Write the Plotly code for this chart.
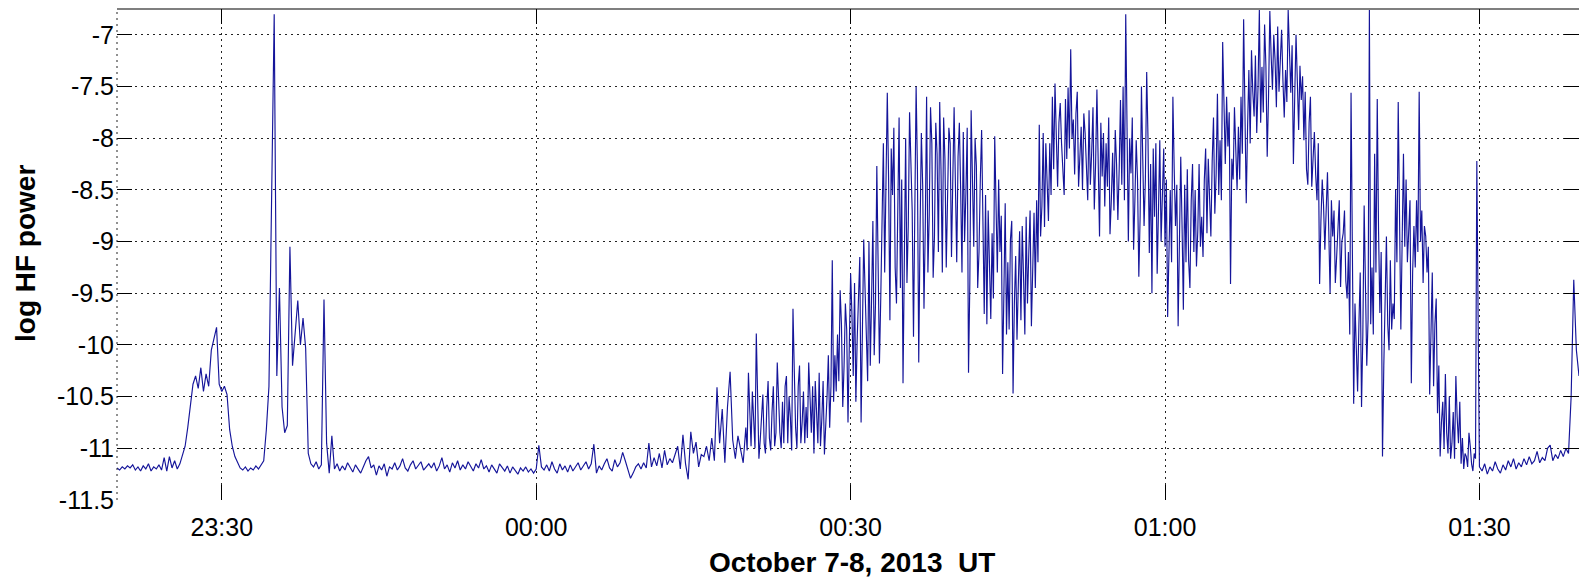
import numpy as np
import pandas as pd
import plotly.graph_objects as go

# HF power (log10), one list per 10-minute block, sampled every 15 s.
# The active blocks also carry a second list sampled half a step later.
START = pd.Timestamp("2013-10-07 23:20:00")
STEP_S = 15

hf_2320 = [-11.19, -11.21, -11.18, -11.20, -11.17, -11.19, -11.16, -11.21, -11.18, -11.22,
           -11.17, -11.20, -11.15, -11.22, -11.18, -11.20, -11.16, -11.21, -11.09, -11.22,
           -11.08, -11.19, -11.12, -11.20, -11.15, -11.06, -10.98, -10.80, -10.58, -10.38,
           -10.30, -10.42, -10.22, -10.45, -10.28, -10.40, -10.05, -9.95, -9.83, -10.38]
hf_2330 = [-10.45, -10.40, -10.48, -10.82, -10.98, -11.08, -11.14, -11.19, -11.21, -11.18,
           -11.22, -11.19, -11.21, -11.17, -11.20, -11.16, -11.12, -10.82, -10.40, -8.60,
           -6.80, -10.30, -9.45, -10.60, -10.85, -10.78, -9.05, -10.20, -9.85, -9.57,
           -10.00, -9.74, -10.03, -11.05, -11.15, -11.18, -11.13, -11.20, -11.16, -9.56]
hf_2340 = [-10.95, -11.24, -10.88, -11.20, -11.15, -11.22, -11.17, -11.21, -11.14, -11.19,
           -11.23, -11.16, -11.20, -11.24, -11.18, -11.12, -11.08, -11.19, -11.16, -11.26,
           -11.17, -11.21, -11.15, -11.27, -11.18, -11.20, -11.14, -11.21, -11.17, -11.10,
           -11.19, -11.22, -11.16, -11.12, -11.20, -11.17, -11.13, -11.21, -11.18, -11.15]
hf_2350 = [-11.19, -11.14, -11.22, -11.17, -11.09, -11.20, -11.16, -11.23, -11.14, -11.19,
           -11.12, -11.21, -11.16, -11.20, -11.13, -11.18, -11.22, -11.15, -11.19, -11.11,
           -11.20, -11.17, -11.23, -11.16, -11.20, -11.24, -11.15, -11.19, -11.22, -11.17,
           -11.24, -11.18, -11.21, -11.25, -11.19, -11.22, -11.18, -11.23, -11.20, -11.24]
hf_0000 = [-11.20, -10.97, -11.18, -11.21, -11.16, -11.22, -11.13, -11.20, -11.24, -11.15,
           -11.21, -11.17, -11.23, -11.16, -11.22, -11.18, -11.14, -11.21, -11.17, -11.13,
           -11.20, -11.15, -10.96, -11.24, -11.17, -11.21, -11.15, -11.10, -11.19, -11.22,
           -11.11, -11.18, -11.14, -11.04, -11.12, -11.20, -11.29, -11.24, -11.18, -11.15]
hf_0010 = [-11.20, -11.14, -11.19, -10.95, -11.18, -11.09, -11.17, -11.05, -11.19, -11.02,
           -11.16, -11.10, -11.14, -11.06, -10.98, -11.20, -10.87, -11.15, -11.30, -10.84,
           -11.05, -10.94, -11.18, -11.06, -11.08, -10.98, -11.12, -10.90, -11.12, -10.41,
           -10.95, -10.62, -11.14, -10.60, -10.26, -10.92, -11.10, -10.88, -11.00, -11.14]
hf_0020 = [-10.80, -10.27, -10.98, -10.75, -9.89, -11.10, -10.70, -10.95, -10.60, -10.90,
           -10.65, -10.98, -10.17, -10.85, -10.55, -10.40, -10.95, -10.70, -9.65, -10.80,
           -10.40, -10.95, -10.45, -10.60, -10.17, -10.85, -11.05, -10.70, -10.27, -10.72,
           -11.06, -10.50, -10.80, -9.18, -10.10, -9.90, -9.47, -10.60, -9.60, -10.75]
hf_0030 = [-9.31, -10.30, -10.55, -9.47, -10.75, -8.98, -10.08, -9.00, -9.55, -10.10,
           -8.27, -10.18, -8.70, -9.30, -7.56, -9.76, -8.55, -9.25, -8.35, -9.45,
           -10.37, -8.00, -8.85, -8.28, -9.92, -7.50, -10.17, -7.95, -9.65, -7.60,
           -8.75, -8.05, -8.95, -8.15, -7.65, -9.30, -8.20, -8.60, -8.05, -8.40]
hf_0040 = [-8.45, -8.18, -8.50, -7.94, -8.53, -10.27, -7.73, -9.05, -8.27, -9.10,
           -7.92, -9.70, -9.80, -9.30, -8.92, -7.98, -9.30, -9.10, -10.28, -8.63,
           -9.20, -8.98, -10.47, -9.14, -9.37, -9.76, -9.34, -8.76, -9.11, -9.82,
           -8.72, -8.60, -7.87, -8.66, -8.86, -8.50, -8.05, -7.60, -7.47, -8.47]
hf_0050 = [-7.66, -8.29, -7.62, -7.51, -7.14, -7.82, -7.76, -8.47, -7.89, -7.76,
           -8.27, -7.73, -8.14, -8.69, -7.53, -8.95, -8.37, -8.66, -8.47, -8.93,
           -8.14, -7.92, -8.79, -7.63, -7.50, -6.80, -9.00, -8.34, -9.08, -8.02,
           -9.34, -7.50, -8.85, -7.36, -9.11, -9.50, -8.76, -9.31, -8.02, -8.47]
hf_0100 = [-9.05, -9.73, -8.50, -7.60, -8.85, -9.82, -8.18, -9.66, -9.20, -9.18,
           -8.60, -9.10, -9.24, -8.25, -8.76, -8.40, -8.92, -8.60, -8.22, -8.73,
           -7.57, -8.02, -7.07, -8.25, -8.08, -9.41, -8.40, -8.05, -7.89, -7.60,
           -6.85, -8.63, -7.34, -7.15, -7.79, -7.95, -6.76, -7.31, -6.90, -8.18]
hf_0110 = [-6.77, -7.53, -7.24, -6.92, -7.31, -7.44, -7.34, -6.76, -7.56, -8.25,
           -7.00, -7.92, -7.63, -8.02, -8.30, -7.85, -8.47, -7.94, -8.60, -9.41,
           -8.40, -9.08, -8.33, -9.50, -8.95, -9.40, -8.85, -9.44, -8.92, -9.38,
           -9.10, -7.56, -10.57, -10.18, -9.80, -10.60, -8.65, -10.20, -6.76, -9.25]
hf_0120 = [-8.15, -7.62, -9.69, -11.08, -9.45, -9.80, -9.18, -9.60, -8.50, -7.65,
           -9.85, -8.15, -8.40, -8.80, -10.37, -8.85, -8.60, -7.55, -8.70, -8.85,
           -9.30, -10.48, -9.30, -9.80, -10.66, -11.08, -10.55, -10.28, -11.05, -11.10,
           -10.65, -10.30, -10.95, -11.15, -11.20, -11.08, -10.85, -11.15, -11.05, -8.22]
hf_0130 = [-11.18, -11.22, -11.15, -11.25, -11.18, -11.22, -11.13, -11.20, -11.24, -11.16,
           -11.21, -11.12, -11.18, -11.10, -11.20, -11.14, -11.18, -11.10, -11.16, -11.08,
           -11.15, -11.12, -11.03, -11.14, -11.09, -11.12, -11.00, -10.97, -11.12, -11.06,
           -11.10, -11.02, -11.08, -11.00, -11.05, -10.50, -9.37, -10.05, -10.30]

# half-step samples (7.5 s after each 15 s sample) in the active blocks
hf_0020b = [-11.02, -10.60, -10.45, -11.00, -10.55, -10.92, -10.48, -11.05, -10.35, -11.02,
            -10.40, -10.85, -10.62, -11.00, -10.95, -10.30, -10.50, -11.02, -10.25, -11.00,
            -10.20, -10.75, -10.95, -10.90, -10.50, -10.40, -10.35, -10.95, -10.98, -10.35,
            -10.80, -10.10, -10.40, -10.55, -10.45, -10.35, -9.80, -10.20, -9.85, -10.00]
hf_0030b = [-9.70, -9.40, -9.95, -9.15, -9.70, -9.45, -10.35, -10.20, -8.80, -9.60,
            -9.05, -9.55, -8.05, -8.60, -8.40, -8.10, -7.90, -9.60, -7.80, -8.40,
            -9.10, -9.40, -7.75, -8.70, -8.65, -8.30, -8.90, -8.45, -8.85, -9.30,
            -7.70, -9.35, -7.85, -9.10, -8.30, -7.80, -9.25, -7.90, -9.15, -7.70]
hf_0040b = [-9.20, -7.85, -9.30, -9.00, -7.90, -9.40, -8.60, -8.00, -9.45, -8.40,
            -8.80, -8.55, -8.70, -9.75, -9.55, -8.85, -8.40, -8.75, -9.50, -9.90,
            -9.85, -8.80, -9.60, -9.95, -8.90, -8.85, -9.90, -9.60, -8.70, -9.10,
            -9.45, -9.20, -8.95, -7.95, -8.05, -8.80, -8.55, -8.30, -8.10, -7.85]
hf_0050b = [-8.05, -8.55, -8.20, -8.10, -8.00, -8.35, -7.55, -8.10, -8.50, -7.95,
            -8.60, -8.45, -7.70, -8.25, -8.10, -7.85, -7.95, -8.05, -7.80, -8.60,
            -8.70, -8.25, -8.30, -8.45, -8.60, -7.90, -8.00, -7.80, -8.60, -8.40,
            -8.75, -8.20, -8.40, -8.00, -8.25, -8.10, -8.05, -8.70, -9.00, -8.10]
hf_0100b = [-8.40, -9.10, -9.20, -8.30, -8.45, -9.00, -8.85, -8.45, -8.30, -9.45,
            -8.25, -8.50, -8.90, -9.05, -9.15, -8.10, -8.20, -8.95, -7.80, -8.35,
            -8.55, -8.60, -7.70, -7.60, -7.75, -8.20, -7.70, -8.50, -8.40, -8.15,
            -7.60, -7.90, -8.05, -7.55, -7.20, -7.50, -7.85, -7.75, -7.30, -7.60]
hf_0110b = [-7.20, -7.00, -7.70, -7.55, -6.95, -7.80, -7.65, -7.25, -7.10, -7.60,
            -7.45, -7.30, -7.40, -7.55, -8.45, -7.60, -8.20, -8.35, -8.05, -8.80,
            -8.65, -8.70, -8.90, -8.60, -8.70, -9.15, -8.60, -9.00, -8.70, -9.55,
            -9.90, -9.10, -9.60, -10.45, -9.30, -9.90, -9.40, -9.75, -9.80, -9.90]
hf_0120b = [-9.30, -8.90, -9.10, -10.20, -8.95, -10.05, -9.85, -9.75, -9.20, -8.70,
            -9.00, -9.05, -9.20, -8.60, -9.30, -9.25, -9.10, -9.00, -9.40, -8.95,
            -9.05, -9.70, -10.40, -9.55, -10.20, -10.75, -11.00, -10.85, -10.50, -10.95,
            -11.10, -10.70, -10.55, -10.90, -11.05, -11.18, -10.98, -11.22, -11.10, -9.75]

half_step_blocks = [("2013-10-08 00:20:00", hf_0020b), ("2013-10-08 00:30:00", hf_0030b),
                    ("2013-10-08 00:40:00", hf_0040b), ("2013-10-08 00:50:00", hf_0050b),
                    ("2013-10-08 01:00:00", hf_0100b), ("2013-10-08 01:10:00", hf_0110b),
                    ("2013-10-08 01:20:00", hf_0120b)]

tick_times = ["2013-10-07 23:30", "2013-10-08 00:00", "2013-10-08 00:30",
              "2013-10-08 01:00", "2013-10-08 01:30"]
tick_text = ["23:30", "00:00", "00:30", "01:00", "01:30"]
y_ticks = [-11.5, -11, -10.5, -10, -9.5, -9, -8.5, -8, -7.5, -7]
y_text = ["-11.5", "-11", "-10.5", "-10", "-9.5", "-9", "-8.5", "-8", "-7.5", "-7"]

# assemble one time-ordered series
main_vals = (hf_2320 + hf_2330 + hf_2340 + hf_2350 + hf_0000 + hf_0010 + hf_0020
             + hf_0030 + hf_0040 + hf_0050 + hf_0100 + hf_0110 + hf_0120 + hf_0130)
main_t = START + pd.to_timedelta(np.arange(len(main_vals)) * STEP_S, unit="s")
parts_t = [pd.Series(main_t)]
parts_v = [pd.Series(main_vals, dtype=float)]
for block_start, vals in half_step_blocks:
    t = pd.Timestamp(block_start) + pd.to_timedelta(7.5 + np.arange(len(vals)) * STEP_S, unit="s")
    parts_t.append(pd.Series(t))
    parts_v.append(pd.Series(vals, dtype=float))
series = pd.DataFrame({"t": pd.concat(parts_t, ignore_index=True),
                       "v": pd.concat(parts_v, ignore_index=True)}).sort_values("t")

W, H = 1579, 579
ML, MR, MT, MB = 117, 0, 9, 79
FONT = "Liberation Sans, Arial, Helvetica, sans-serif"
DOTS = "2px,4px"

fig = go.Figure()
fig.add_trace(go.Scatter(x=series["t"], y=series["v"], mode="lines",
                         line=dict(color="#15159a", width=1.15),
                         hoverinfo="skip", showlegend=False))

axis_common = dict(
    showline=False, zeroline=False, mirror="ticks",
    ticks="inside", ticklen=15, tickwidth=1, tickcolor="black",
    showgrid=True, gridcolor="#222222", gridwidth=1, griddash=DOTS,
    tickfont=dict(family=FONT, size=25, color="black"),
)

fig.update_xaxes(type="date",
                 range=["2013-10-07 23:20:00", "2013-10-08 01:39:30"],
                 tickmode="array", tickvals=tick_times, ticktext=tick_text,
                 ticklabelstandoff=10, **axis_common)
fig.update_yaxes(range=[-11.5, -6.75], tickmode="array",
                 tickvals=y_ticks, ticktext=y_text,
                 ticklabelstandoff=2, **axis_common)

plot_h = H - MT - MB
plot_w = W - ML - MR

fig.add_annotation(text="<b>October 7-8, 2013 \u00a0UT</b>", xref="paper", yref="paper",
                   x=(852 - ML) / plot_w, y=-(562 - (H - MB)) / plot_h,
                   xanchor="center", yanchor="middle", showarrow=False,
                   font=dict(family=FONT, size=28, color="black"))
fig.add_annotation(text="<b>log HF power</b>", xref="paper", yref="paper",
                   x=(25 - ML) / plot_w, y=((H - MB) - 254) / plot_h,
                   xanchor="center", yanchor="middle", textangle=-90, showarrow=False,
                   font=dict(family=FONT, size=28, color="black"))

# solid top edge of the axes box, dotted left edge
fig.add_shape(type="line", xref="paper", yref="paper", x0=0, x1=1, y0=1, y1=1,
              line=dict(color="black", width=1.2))
fig.add_shape(type="line", xref="paper", yref="paper", x0=0, x1=0, y0=0, y1=1,
              line=dict(color="#222222", width=1, dash=DOTS))

fig.update_layout(width=W, height=H,
                  margin=dict(l=ML, r=MR, t=MT, b=MB, pad=0),
                  paper_bgcolor="white", plot_bgcolor="white",
                  showlegend=False)

fig.write_html("out.html")
